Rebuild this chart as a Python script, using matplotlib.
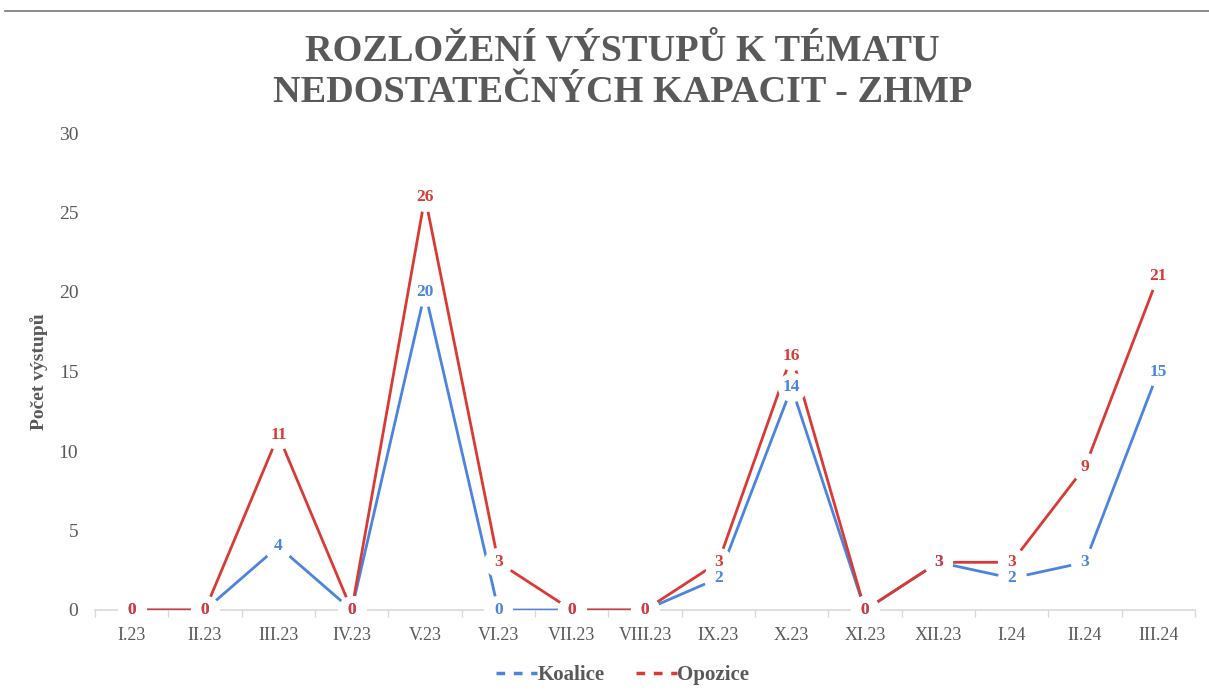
import matplotlib
matplotlib.use("Agg")
import matplotlib.pyplot as plt
from matplotlib.lines import Line2D

categories = ["I.23", "II.23", "III.23", "IV.23", "V.23", "VI.23", "VII.23", "VIII.23",
              "IX.23", "X.23", "XI.23", "XII.23", "I.24", "II.24", "III.24"]
koalice = [0, 0, 4, 0, 20, 0, 0, 0, 2, 14, 0, 3, 2, 3, 15]
opozice = [0, 0, 11, 0, 26, 3, 0, 0, 3, 16, 0, 3, 3, 9, 21]
yticks = [0, 5, 10, 15, 20, 25, 30]

BLUE = "#4a84e0"
RED = "#d93a35"
GRAY = "#595959"
FONT = "Liberation Serif"
plt.rcParams["font.family"] = [FONT, "DejaVu Serif"]

fig = plt.figure(figsize=(12.09, 6.99), dpi=100)
ax = fig.add_axes([95/1209, 1-610/699, 1100/1209, 477/699])

x = list(range(len(categories)))
ax.plot(x, koalice, color=BLUE, lw=2.0, zorder=2, solid_capstyle="butt")
ax.plot(x, opozice, color=RED, lw=2.0, zorder=3, solid_capstyle="butt")

# white patches under data labels (gaps in lines)
ax.plot(x, koalice, linestyle="none", marker="o", ms=21, mfc="white", mec="none", zorder=4, clip_on=False)
ax.plot(x, opozice, linestyle="none", marker="o", ms=21, mfc="white", mec="none", zorder=4, clip_on=False)

for xi, v in zip(x, koalice):
    ax.text(xi, v, str(v), color=BLUE, fontsize=12.5, fontweight="bold", ha="center", va="center",
            zorder=5)
for xi, v in zip(x, opozice):
    ax.text(xi, v, str(v), color=RED, fontsize=12.5, fontweight="bold", ha="center", va="center",
            zorder=6)

ax.set_xlim(-0.5, len(categories) - 0.5)
ax.set_ylim(0, 30)
ax.set_yticks(yticks)
ax.set_yticklabels([str(t) for t in yticks], fontsize=14, color=GRAY)
ax.set_xticks(x)
ax.set_xticklabels(categories, fontsize=13, color=GRAY)
ax.tick_params(axis="y", length=0, pad=12)
ax.tick_params(axis="x", length=0, pad=12)
ax.set_xticks([i + 0.5 for i in range(-1, len(categories))], minor=True)
ax.tick_params(axis="x", which="minor", length=5, color="#d9d9d9", width=1, direction="out")
for s in ["top", "right", "left"]:
    ax.spines[s].set_visible(False)
ax.spines["bottom"].set_color("#d9d9d9")
ax.spines["bottom"].set_linewidth(1.2)
ax.spines["bottom"].set_zorder(1)
ax.set_ylabel("Počet výstupů", fontsize=14, fontweight="bold", color=GRAY, labelpad=8)

fig.text(0.515, 1-51/699, "ROZLOŽENÍ VÝSTUPŮ K TÉMATU", ha="center", va="center",
         fontsize=27.5, fontweight="bold", color=GRAY)
fig.text(0.515, 1-92/699, "NEDOSTATEČNÝCH KAPACIT - ZHMP", ha="center", va="center",
         fontsize=27.5, fontweight="bold", color=GRAY)

handles = [Line2D([], [], color=BLUE, lw=2.5, linestyle=(0, (2.5, 2.5))),
           Line2D([], [], color=RED, lw=2.5, linestyle=(0, (2.5, 2.5)))]
leg = fig.legend(handles, ["Koalice", "Opozice"], loc="center", bbox_to_anchor=(0.515, 1-675/699),
                 ncol=2, frameon=False, handlelength=2.0, handletextpad=0.0, columnspacing=1.5,
                 prop={"family": FONT, "size": 15, "weight": "bold"})
for t in leg.get_texts():
    t.set_color(GRAY)

fig.add_artist(Line2D([5/1209, 1], [1-11/699, 1-11/699], color="#777777", lw=1.2))

fig.savefig("out.png", dpi=100, facecolor="white")
